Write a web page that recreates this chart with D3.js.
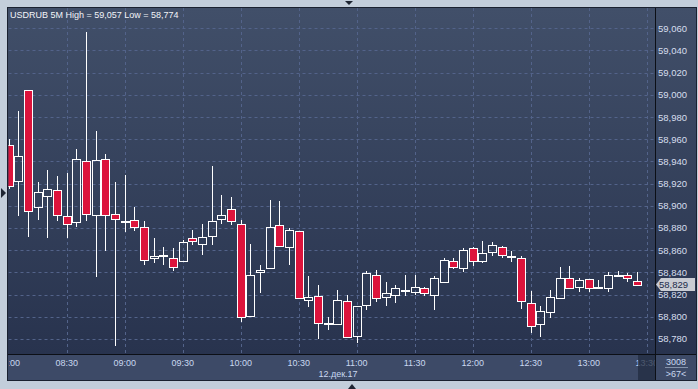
<!DOCTYPE html>
<html>
<head>
  <meta charset="UTF-8">
  <style>
    body { margin: 0; background-color: #c3cedb; }
    svg { display: block; font-family: "Liberation Sans", Arial, sans-serif; }
    .grid line { stroke: #53638a; stroke-width: 1; stroke-dasharray: 3,3; }
    .ylab { font-size: 9.5px; fill: #d6deee; }
    .xlab { font-size: 9px; fill: #c9d8f0; }
  </style>
</head>
<body>
<svg></svg>
<script src="https://d3js.org/d3.v7.min.js"></script>
<script>
let width = 698, height = 389;

// 5-minute candles, 12 Dec 2017
let times = ["08:00","08:05","08:10","08:15","08:20","08:25","08:30","08:35","08:40","08:45","08:50","08:55",
             "09:00","09:05","09:10","09:15","09:20","09:25","09:30","09:35","09:40","09:45","09:50","09:55",
             "10:00","10:05","10:10","10:15","10:20","10:25","10:30","10:35","10:40","10:45","10:50","10:55",
             "11:00","11:05","11:10","11:15","11:20","11:25","11:30","11:35","11:40","11:45","11:50","11:55",
             "12:00","12:05","12:10","12:15","12:20","12:25","12:30","12:35","12:40","12:45","12:50","12:55",
             "13:00","13:05","13:10","13:15","13:20","13:25"];
let opens  = [58.955,58.922,59.004,58.899,58.909,58.914,58.891,58.885,58.940,58.892,58.942,58.893,
              58.885,58.887,58.881,58.853,58.856,58.853,58.850,58.871,58.866,58.873,58.888,58.897,
              58.884,58.801,58.840,58.844,58.883,58.863,58.877,58.815,58.819,58.793,58.793,58.814,
              58.783,58.811,58.838,58.818,58.820,58.824,58.822,58.826,58.820,58.831,58.850,58.8435,
              58.862,58.850,58.858,58.863,58.854,58.853,58.812,58.793,58.804,58.817,58.835,58.827,
              58.834,58.8255,58.826,58.837,58.838,58.832];
let highs  = [58.960,58.985,59.004,58.921,58.932,58.927,58.930,58.951,59.057,58.967,58.947,58.921,
              58.928,58.899,58.886,58.871,58.863,58.862,58.869,58.878,58.884,58.936,58.910,58.908,
              58.887,58.866,58.847,58.905,58.904,58.880,58.877,58.837,58.829,58.800,58.824,58.820,
              58.810,58.841,58.842,58.831,58.829,58.838,58.838,58.827,58.837,58.853,58.8525,58.862,
              58.8625,58.868,58.867,58.864,58.859,58.855,58.823,58.810,58.824,58.845,58.8456,58.835,
              58.834,58.833,58.840,58.841,58.8395,58.840];
let lows   = [58.915,58.891,58.872,58.887,58.871,58.886,58.871,58.881,58.886,58.836,58.859,58.774,
              58.876,58.877,58.847,58.848,58.847,58.841,58.849,58.865,58.856,58.865,58.884,58.883,
              58.795,58.800,58.821,58.844,58.863,58.847,58.816,58.809,58.780,58.788,58.793,58.782,
              58.776,58.806,58.813,58.810,58.812,58.819,58.820,58.819,58.806,58.830,58.843,58.840,
              58.846,58.848,58.855,58.853,58.8495,58.807,58.785,58.782,58.799,58.816,58.825,58.822,
              58.822,58.8248,58.822,58.836,58.8314,58.828];
let closes = [58.918,58.945,58.895,58.912,58.915,58.892,58.884,58.942,58.893,58.941,58.892,58.888,
              58.886,58.881,58.851,58.855,58.855,58.845,58.867,58.868,58.872,58.886,58.892,58.886,
              58.800,58.838,58.842,58.881,58.864,58.878,58.817,58.818,58.794,58.794,58.815,58.782,
              58.810,58.839,58.817,58.821,58.826,58.8242,58.827,58.821,58.835,58.851,58.845,58.860,
              58.850,58.857,58.865,58.856,58.8545,58.814,58.792,58.805,58.818,58.8345,58.826,58.833,
              58.826,58.827,58.838,58.8372,58.8345,58.829];

let yTicks = [58.78,58.80,58.82,58.84,58.86,58.88,58.90,58.92,58.94,58.96,58.98,59.00,59.02,59.04,59.06];
let xTicks = ["08:00","08:30","09:00","09:30","10:00","10:30","11:00","11:30","12:00","12:30","13:00","13:30"];
let dateLabel = "12.дек.17";
let title = "USDRUB 5M High = 59,057 Low = 58,774";
let lastPrice = 58.829;

let parse = d3.timeParse("%H:%M");
let candles = times.map((t, i) => ({
  t: parse(t), o: opens[i], h: highs[i], l: lows[i], c: closes[i]
}));

let plot = { left: 8.5, right: 655, top: 8, bottom: 354 };

let svg = d3.select("svg").attr("width", width).attr("height", height);

let x = d3.scaleTime()
    .domain([parse("08:00"), parse("13:30")])
    .range([8.7, 646.7]);
let y = d3.scaleLinear()
    .domain([58.78, 59.06])
    .range([338.9, 28.3]);

let fmt = v => d3.format(".3f")(v).replace(".", ",");
let snap = v => Math.round(v) + 0.5;

// gradients
let defs = svg.append("defs");
let grad = defs.append("linearGradient").attr("id", "bg").attr("x1", 0).attr("y1", 0).attr("x2", 0).attr("y2", 1);
grad.append("stop").attr("offset", "0%").attr("stop-color", "#414f69");
grad.append("stop").attr("offset", "100%").attr("stop-color", "#28334e");
defs.append("clipPath").attr("id", "plotclip")
  .append("rect").attr("x", plot.left).attr("y", plot.top)
  .attr("width", plot.right - plot.left).attr("height", plot.bottom - plot.top);
defs.append("clipPath").attr("id", "xclip")
  .append("rect").attr("x", 9).attr("y", plot.bottom)
  .attr("width", plot.right - 9).attr("height", 26);

// outer frame
svg.append("rect").attr("width", width).attr("height", height).attr("fill", "#c3cedb");
svg.append("rect").attr("x", 7).attr("y", 7).attr("width", 690).attr("height", 374).attr("fill", "#1a2130");
svg.append("rect").attr("x", 8).attr("y", 8).attr("width", 647).attr("height", 346).attr("fill", "url(#bg)");
svg.append("rect").attr("x", 656).attr("y", 8).attr("width", 40).attr("height", 346).attr("fill", "url(#bg)");
svg.append("rect").attr("x", 8).attr("y", 355).attr("width", 647).attr("height", 25).attr("fill", "#3d4a67");
svg.append("rect").attr("x", 656).attr("y", 355).attr("width", 40).attr("height", 25).attr("fill", "#3d4a67");

// grid
let grid = svg.append("g").attr("class", "grid").attr("clip-path", "url(#plotclip)");
grid.selectAll(".h").data(yTicks).enter().append("line")
    .attr("x1", plot.left).attr("x2", plot.right)
    .attr("y1", d => snap(y(d))).attr("y2", d => snap(y(d)));
grid.selectAll(".v").data(xTicks.slice(1)).enter().append("line")
    .attr("x1", d => snap(x(parse(d)))).attr("x2", d => snap(x(parse(d))))
    .attr("y1", plot.top).attr("y2", plot.bottom);

// candles
let cg = svg.append("g").attr("clip-path", "url(#plotclip)");
let cnd = cg.selectAll("g.candle").data(candles).enter().append("g").attr("class", "candle");
let cx = d => snap(x(d.t));
let bodyTop = d => snap(y(Math.max(d.o, d.c)));
let bodyBot = d => Math.max(bodyTop(d) + 1, snap(y(Math.min(d.o, d.c))));
cnd.append("line")
    .attr("x1", cx).attr("x2", cx)
    .attr("y1", d => Math.round(y(d.h))).attr("y2", bodyTop)
    .attr("stroke", "#fff");
cnd.append("line")
    .attr("x1", cx).attr("x2", cx)
    .attr("y1", bodyBot).attr("y2", d => Math.round(y(d.l)))
    .attr("stroke", "#fff");
cnd.append("rect")
    .attr("x", d => cx(d) - 4)
    .attr("y", bodyTop)
    .attr("width", 8)
    .attr("height", d => bodyBot(d) - bodyTop(d))
    .attr("fill", d => d.c < d.o ? "#dc143c" : "none")
    .attr("stroke", "#fff").attr("stroke-width", 1);

// separators
svg.append("line").attr("x1", 655.5).attr("x2", 655.5).attr("y1", 8).attr("y2", 380).attr("stroke", "#0c0f16");
svg.append("line").attr("x1", 8).attr("x2", 696).attr("y1", 354.5).attr("y2", 354.5).attr("stroke", "#0c0f16");

// y axis labels
svg.append("g").selectAll("text").data(yTicks).enter().append("text")
    .attr("class", "ylab")
    .attr("x", 658).attr("y", d => y(d) + 3.5)
    .text(fmt);

// last price marker
let lp = svg.append("g").attr("transform", `translate(0, ${y(lastPrice)})`);
lp.append("path")
    .attr("d", "M656,0 L661,-6.5 L695,-6.5 L695,6.5 L661,6.5 Z")
    .attr("fill", "#c9ccd3");
lp.append("text").attr("x", 659).attr("y", 3.5)
    .style("font-size", "9.5px").style("fill", "#1c2a48").text(fmt(lastPrice));

// x axis labels
let xl = svg.append("g").attr("clip-path", "url(#xclip)");
xl.selectAll("text").data(xTicks).enter().append("text")
    .attr("class", "xlab")
    .attr("x", d => x(parse(d))).attr("y", 366)
    .attr("text-anchor", "middle")
    .text(d => d);
svg.append("rect").attr("x", 638).attr("y", 355).attr("width", 17).attr("height", 25)
    .attr("fill", "#222c40").attr("opacity", 0.75);
svg.append("text").attr("class", "xlab").attr("x", 338).attr("y", 377)
    .attr("text-anchor", "middle").text(dateLabel);

// corner box
svg.append("text").attr("class", "xlab").attr("x", 676).attr("y", 365).attr("text-anchor", "middle").text("3008");
svg.append("line").attr("x1", 665).attr("x2", 688).attr("y1", 367.5).attr("y2", 367.5).attr("stroke", "#8593ab");
svg.append("text").attr("class", "xlab").attr("x", 676).attr("y", 377).attr("text-anchor", "middle").text(">67<");

// title
svg.append("text").attr("x", 10).attr("y", 18)
    .style("font-size", "9px").style("fill", "#f2f4f8").text(title);

// frame arrows
svg.append("path").attr("d", "M345,1 L353,1 L349,5 Z").attr("fill", "#1e2533");
svg.append("path").attr("d", "M348,389 L356,389 L352,384 Z").attr("fill", "#1e2533");
svg.append("path").attr("d", "M1,188 L1,198 L6,193 Z").attr("fill", "#1e2533");
</script>
</body>
</html>
